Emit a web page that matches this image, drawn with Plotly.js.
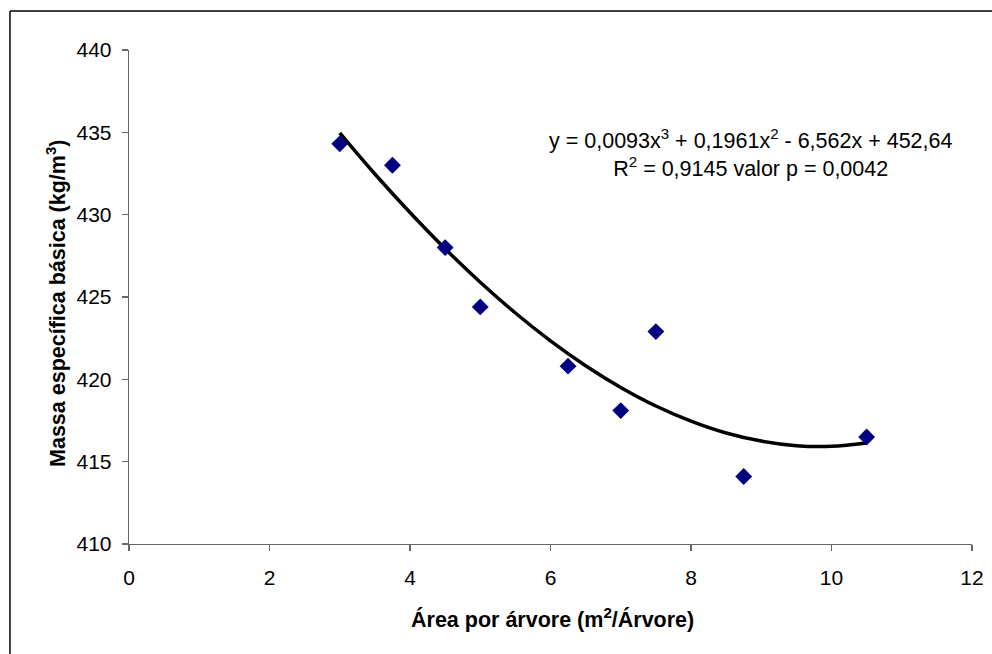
<!DOCTYPE html>
<html>
<head>
<meta charset="utf-8">
<script src="https://cdn.plot.ly/plotly-3.0.1.min.js"></script>
<style>html,body{margin:0;padding:0;background:#fff;}#chart{width:992px;height:654px;}</style>
</head>
<body>
<div id="chart"></div>
<script>
// Observed points
const areaPorArvore = [3.0, 3.75, 4.5, 5.0, 6.25, 7.0, 7.5, 8.75, 10.5];
const massaEspecifica = [434.3, 433.0, 428.0, 424.4, 420.8, 418.1, 422.9, 414.1, 416.5];

// Trend curve
const curveX = [3.0, 3.5, 4.0, 4.5, 5.0, 5.5, 6.0, 6.5, 7.0, 7.5, 8.0, 8.5, 9.0, 9.5, 10.0, 10.5];
const curveY = [434.97, 432.47, 430.13, 427.93, 425.90, 424.03, 422.34, 420.83, 419.51, 418.38, 417.46, 416.74, 416.25, 415.97, 415.93, 416.13];

const xTicks = [0, 2, 4, 6, 8, 10, 12];
const yTicks = [410, 415, 420, 425, 430, 435, 440];

const equationText = 'y = 0,0093x<sup>3</sup> + 0,1961x<sup>2</sup> - 6,562x + 452,64<br>R<sup>2</sup> = 0,9145 valor p = 0,0042';
const xTitle = '<b>Área por árvore (m<sup>2</sup>/Árvore)</b>';
const yTitle = '<b>Massa específica básica (kg/m<sup>3</sup>)</b>';

const font = 'Liberation Sans, Arial, sans-serif';

const traces = [
  {
    x: curveX, y: curveY, type: 'scatter', mode: 'lines',
    line: {color: '#000000', width: 3.5, shape: 'spline'},
    hoverinfo: 'skip', showlegend: false
  },
  {
    x: areaPorArvore, y: massaEspecifica, type: 'scatter', mode: 'markers',
    marker: {symbol: 'diamond', size: 13, color: '#000080'},
    showlegend: false
  }
];

const layout = {
  width: 992, height: 654,
  margin: {l: 129, r: 20, t: 50, b: 110},
  paper_bgcolor: '#ffffff', plot_bgcolor: '#ffffff',
  font: {family: font, size: 21, color: '#000000'},
  showlegend: false,
  xaxis: {
    range: [0, 12], tickvals: xTicks, ticktext: xTicks.map(String),
    showgrid: false, zeroline: false, showline: true, linecolor: '#666666', linewidth: 1.3,
    ticks: 'outside', ticklen: 6, tickcolor: '#666666', tickwidth: 1.3,
    ticklabelstandoff: 8,
    tickfont: {family: font, size: 21, color: '#000000'},
    automargin: false, fixedrange: true
  },
  yaxis: {
    range: [410, 440], tickvals: yTicks, ticktext: yTicks.map(String),
    showgrid: false, zeroline: false, showline: true, linecolor: '#666666', linewidth: 1.3,
    ticks: 'outside', ticklen: 6, tickcolor: '#666666', tickwidth: 1.3,
    ticklabelstandoff: 6,
    tickfont: {family: font, size: 21, color: '#000000'},
    automargin: false, fixedrange: true
  },
  annotations: [
    {
      xref: 'x', yref: 'y', x: 8.85, y: 433.75, text: equationText, showarrow: false,
      align: 'center', font: {family: font, size: 21.5, color: '#000000'}
    },
    {
      xref: 'paper', yref: 'paper', x: 0.5018, y: -0.1500, xanchor: 'center', yanchor: 'middle',
      text: xTitle, showarrow: false, font: {family: font, size: 21.5, color: '#000000'}
    },
    {
      xref: 'paper', yref: 'paper', x: -0.0866, y: 0.4879, xanchor: 'center', yanchor: 'middle',
      textangle: -90, text: yTitle, showarrow: false, font: {family: font, size: 21.5, color: '#000000'}
    }
  ],
  shapes: [
    {type: 'line', xref: 'paper', yref: 'paper', x0: -0.1412, x1: 1.1, y0: 1.0789, y1: 1.0789, line: {color: '#000000', width: 1.5}},
    {type: 'line', xref: 'paper', yref: 'paper', x0: -0.1412, x1: -0.1412, y0: -0.3, y1: 1.0789, line: {color: '#000000', width: 1.5}}
  ]
};

Plotly.newPlot('chart', traces, layout, {displayModeBar: false, staticPlot: true});
</script>
</body>
</html>
